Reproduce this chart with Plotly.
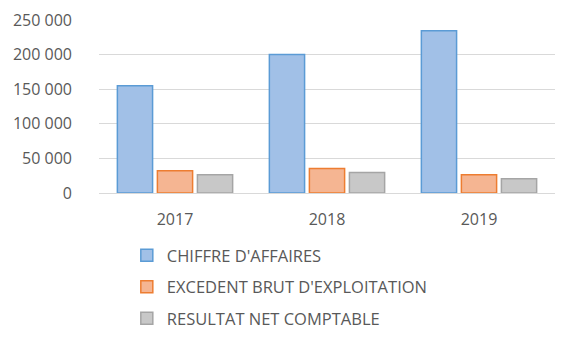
import plotly.graph_objects as go

years = ["2017", "2018", "2019"]
chiffre_affaires = [155000, 200000, 234500]
excedent_brut = [32000, 35500, 26500]
resultat_net = [26500, 29500, 20500]

series = [
    ("CHIFFRE D'AFFAIRES", chiffre_affaires, "#a1c0e7", "#5b9bd5"),
    ("EXCEDENT BRUT D'EXPLOITATION", excedent_brut, "#f5b592", "#ed7d31"),
    ("RESULTAT NET COMPTABLE", resultat_net, "#c8c8c8", "#a5a5a5"),
]

fig = go.Figure()
for i, (name, vals, fill, line) in enumerate(series):
    fig.add_trace(go.Bar(
        x=years, y=vals, name=name, legendgroup=f"g{i}",
        marker=dict(color=fill, line=dict(color=line, width=1.5)),
    ))

fig.update_layout(
    width=573, height=345,
    margin=dict(l=99, r=18, t=20, b=152, autoexpand=False),
    paper_bgcolor="white", plot_bgcolor="white",
    barmode="group", bargap=0.21, bargroupgap=0.12,
    separators=", ",
    font=dict(family="Open Sans", color="#595959", size=16),
    showlegend=True,
    legend=dict(
        orientation="v", x=0.061, xanchor="left",
        yref="container", y=0.31, yanchor="top",
        font=dict(size=16.5, color="#595959"), tracegroupgap=7,
    ),
    xaxis=dict(showgrid=False, showline=False, ticks="", tickfont=dict(size=16),
               ticklabelstandoff=15),
    yaxis=dict(
        range=[0, 250000], dtick=50000, tickformat=",d",
        showgrid=True, gridcolor="#d9d9d9", gridwidth=1,
        zeroline=True, zerolinecolor="#d9d9d9", zerolinewidth=1,
        showline=False, ticks="", tickfont=dict(size=16), ticklabelstandoff=26,
    ),
)

fig.write_html("out.html")
